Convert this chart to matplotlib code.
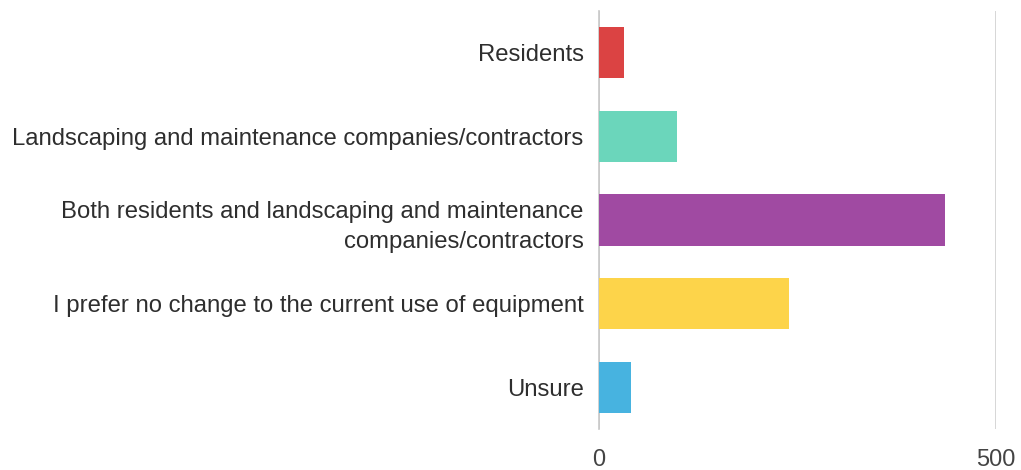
import matplotlib
matplotlib.use("Agg")
import matplotlib.pyplot as plt

# survey responses
categories = [
    "Residents",
    "Landscaping and maintenance companies/contractors",
    "Both residents and landscaping and maintenance\ncompanies/contractors",
    "I prefer no change to the current use of equipment",
    "Unsure",
]
counts = [31, 98, 436, 239, 40]
bar_colors = ["#db4343", "#6bd6bb", "#a04aa2", "#fdd44a", "#47b3e0"]
x_ticks = [0, 500]

plt.rcParams['font.family'] = ['Liberation Sans', 'DejaVu Sans']

fig = plt.figure(figsize=(10.21, 4.70), dpi=100)
ax = fig.add_axes([0.5867, 0.0864, 0.3885, 0.891])

y_pos = list(range(len(categories)))
ax.barh(y_pos, counts, height=0.61, color=bar_colors, zorder=3)

ax.set_xlim(0, 500)
ax.set_ylim(len(categories) - 0.5, -0.5)
ax.set_yticks(y_pos)
ax.set_yticklabels(categories, fontsize=17.2, color="#2e2e2e", linespacing=1.5)
ax.set_xticks(x_ticks)
ax.set_xticklabels([str(t) for t in x_ticks], fontsize=17, color="#444444")
ax.tick_params(axis='both', length=0)
ax.tick_params(axis='y', pad=11)
ax.tick_params(axis='x', pad=14)

ax.grid(axis='x', color="#d0d0d0", linewidth=1.2, zorder=0)
for s in ['top', 'right', 'bottom']:
    ax.spines[s].set_visible(False)
ax.spines['left'].set_color("#c8c8c8")
ax.spines['left'].set_linewidth(1.2)

fig.savefig("out.png", dpi=100, facecolor="white")
